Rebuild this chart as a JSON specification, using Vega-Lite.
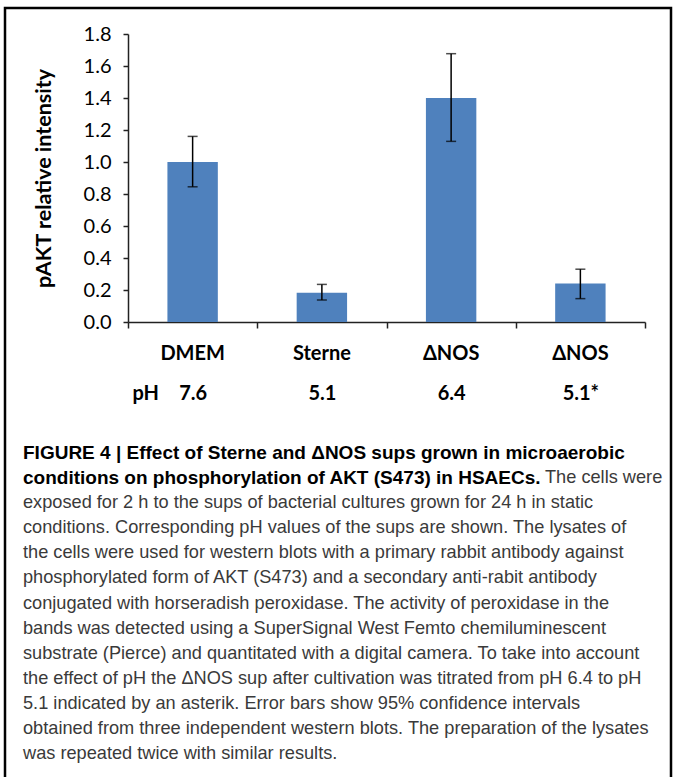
{
  "$schema": "https://vega.github.io/schema/vega-lite/v6.json",
  "autosize": "none",
  "width": 666,
  "height": 780,
  "padding": {"left": 5, "top": 8, "right": 4, "bottom": 0},
  "background": "white",
  "config": {
    "view": {"stroke": "#000", "strokeWidth": 2.5},
    "axis": {"labelFont": "Lato", "titleFont": "Lato", "labelColor": "#000", "titleColor": "#000", "domainColor": "#222", "tickColor": "#222"}
  },
  "datasets": {
    "bars": [
      {"sample": "DMEM", "pH": "7.6", "value": 1.0, "lo": 0.845, "hi": 1.16},
      {"sample": "Sterne", "pH": "5.1", "value": 0.183, "lo": 0.1375, "hi": 0.235},
      {"sample": "ΔNOS", "pH": "6.4", "value": 1.40, "lo": 1.129, "hi": 1.677},
      {"sample": "ΔNOS", "pH": "5.1*", "value": 0.24, "lo": 0.146, "hi": 0.33}
    ],
    "boldLines": [
      {"line": 1, "text": "FIGURE 4 | Effect of Sterne and ΔNOS sups grown in microaerobic"},
      {"line": 2, "text": "conditions on phosphorylation of AKT (S473) in HSAECs."}
    ],
    "plainFirst": [
      {"line": 2, "text": "The cells were"}
    ],
    "plainLines": [
      {"line": 3, "text": "exposed for 2 h to the sups of bacterial cultures grown for 24 h in static"},
      {"line": 4, "text": "conditions. Corresponding pH values of the sups are shown. The lysates of"},
      {"line": 5, "text": "the cells were used for western blots with a primary rabbit antibody against"},
      {"line": 6, "text": "phosphorylated form of AKT (S473) and a secondary anti-rabit antibody"},
      {"line": 7, "text": "conjugated with horseradish peroxidase. The activity of peroxidase in the"},
      {"line": 8, "text": "bands was detected using a SuperSignal West Femto chemiluminescent"},
      {"line": 9, "text": "substrate (Pierce) and quantitated with a digital camera. To take into account"},
      {"line": 10, "text": "the effect of pH the ΔNOS sup after cultivation was titrated from pH 6.4 to pH"},
      {"line": 11, "text": "5.1 indicated by an asterik. Error bars show 95% confidence intervals"},
      {"line": 12, "text": "obtained from three independent western blots. The preparation of the lysates"},
      {"line": 13, "text": "was repeated twice with similar results."}
    ]
  },
  "layer": [
    {
      "data": {"name": "bars"},
      "encoding": {
        "x": {
          "field": "pH", "type": "nominal", "sort": null,
          "scale": {"range": [123, 640], "paddingInner": 0, "paddingOuter": 0},
          "axis": {
            "title": "pH", "titleFontSize": 20, "titleFontWeight": "bold", "titleAngle": 0,
            "titleAlign": "left", "titleBaseline": "middle", "titleX": 127, "titleY": 71,
            "labelAngle": 0, "labelFontSize": 20, "labelFontWeight": "bold", "labelPadding": 55,
            "tickBand": "extent", "tickSize": 6, "tickWidth": 1.5, "domainWidth": 1.5,
            "offset": -466
          }
        }
      },
      "layer": [
        {
          "mark": {"type": "bar", "color": "#4F81BD", "width": {"band": 0.39}},
          "encoding": {
            "y": {
              "field": "value", "type": "quantitative",
              "scale": {"domain": [0, 1.8], "range": [314, 26], "nice": false, "zero": true},
              "axis": {
                "title": "pAKT relative intensity", "titleFontSize": 21.5, "titleFontWeight": "bold",
                "titlePadding": 28, "labelFontSize": 20, "labelPadding": 12,
                "values": [0, 0.2, 0.4, 0.6, 0.8, 1.0, 1.2, 1.4, 1.6, 1.8],
                "labelOverlap": false, "labelBound": false, "labelFlush": false,
                "format": ".1f", "grid": false, "tickSize": 5, "tickWidth": 1.5, "domainWidth": 1.5,
                "offset": -123
              }
            }
          }
        },
        {
          "mark": {"type": "rule", "color": "#000", "strokeWidth": 1.5},
          "encoding": {"y": {"field": "lo", "type": "quantitative"}, "y2": {"field": "hi"}}
        },
        {
          "mark": {"type": "tick", "color": "#000", "size": 10, "thickness": 1.5, "orient": "horizontal"},
          "encoding": {"y": {"field": "hi", "type": "quantitative"}}
        },
        {
          "mark": {"type": "tick", "color": "#000", "size": 10, "thickness": 1.5, "orient": "horizontal"},
          "encoding": {"y": {"field": "lo", "type": "quantitative"}}
        },
        {
          "mark": {"type": "text", "font": "Lato", "fontSize": 20, "fontWeight": "bold", "color": "#000", "baseline": "middle", "dy": 32},
          "encoding": {"y": {"datum": 0, "type": "quantitative"}, "text": {"field": "sample"}}
        }
      ]
    },
    {
      "encoding": {
        "x": {"datum": 0, "type": "quantitative", "scale": {"domain": [0, 1], "range": [18, 660]}, "axis": null},
        "y": {"field": "line", "type": "quantitative", "scale": {"domain": [1, 13], "range": [445, 746]}, "axis": null},
        "text": {"field": "text"}
      },
      "layer": [
        {"data": {"name": "boldLines"}, "mark": {"type": "text", "align": "left", "baseline": "middle", "font": "Liberation Sans", "fontSize": 19, "fontWeight": "bold", "color": "#000"}},
        {"data": {"name": "plainFirst"}, "mark": {"type": "text", "align": "left", "baseline": "middle", "font": "Liberation Sans", "fontSize": 18.2, "color": "#3a3a3a", "dx": 522}},
        {"data": {"name": "plainLines"}, "mark": {"type": "text", "align": "left", "baseline": "middle", "font": "Liberation Sans", "fontSize": 18.2, "color": "#3a3a3a"}}
      ]
    }
  ],
  "resolve": {"scale": {"x": "independent", "y": "independent"}, "axis": {"x": "independent", "y": "independent"}}
}
